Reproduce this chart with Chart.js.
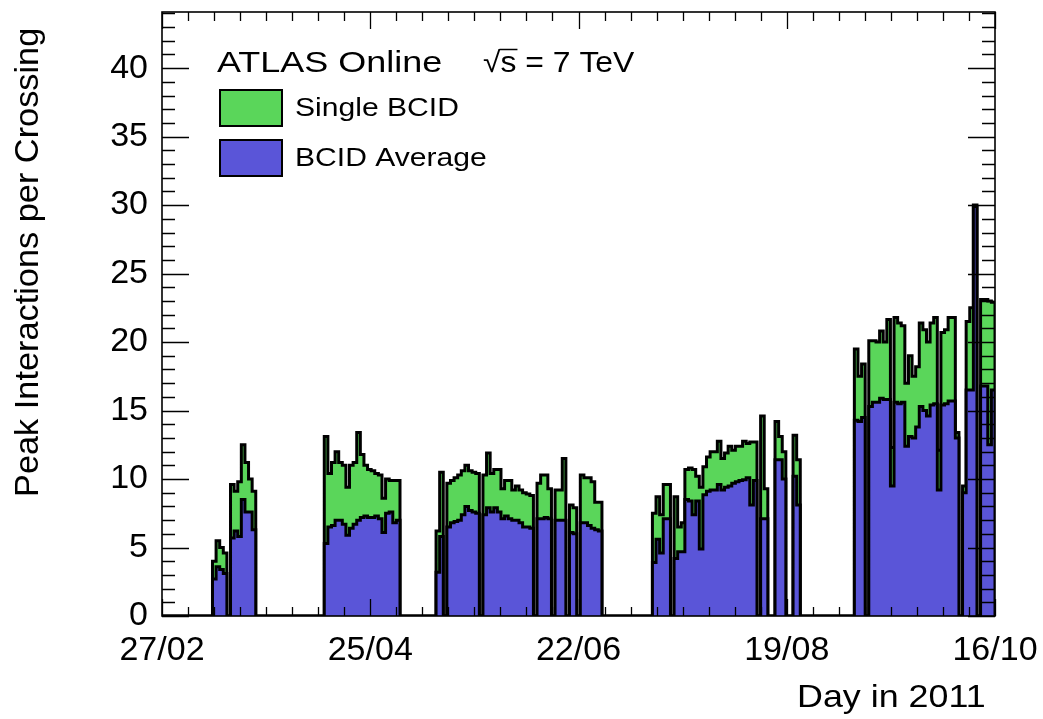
<!DOCTYPE html>
<html>
<head>
<meta charset="utf-8">
<title>ATLAS peak interactions per crossing 2011</title>
<script src="https://cdn.jsdelivr.net/npm/chart.js@4.4.1/dist/chart.umd.min.js"></script>
<style>
  html, body { margin: 0; padding: 0; background: #fff; }
  canvas { display: block; }
</style>
</head>
<body>
<canvas id="peakChart" width="1043" height="719"></canvas>
<script>
// first day (day of year, 0 = 1 Jan 2011) of each block of fills
const periodStart = [71, 102, 133, 193, 249];

// peak interactions per crossing, one value per day (0 = no stable beams that day)
const singleBCID = [
    [4.0, 5.5, 5.0, 4.6, 0, 9.6, 9.1, 9.8, 12.5, 11.2, 10.0, 9.1],
    [13.1, 10.4, 11.2, 12.0, 11.2, 11.0, 9.4, 11.0, 11.2, 13.4, 11.8, 11.0, 10.7, 10.6, 10.4, 10.3, 8.6, 10.0, 9.9, 9.9, 9.9],
    [6.2, 10.5, 0, 9.7, 9.9, 10.1, 10.3, 10.6, 11.0, 10.6, 10.5, 10.4, 0,
     10.3, 11.9, 10.4, 10.7, 10.7, 9.3, 9.9, 9.9, 9.2, 9.5, 9.2, 9.0, 8.9, 8.8, 0,
     9.7, 10.3, 10.3, 9.3, 0, 9.2, 9.2, 11.5, 0, 8.1, 7.9, 0,
     10.3, 10.1, 10.1, 9.8, 8.3, 8.3],
    [7.5, 8.7, 7.4, 9.6, 9.6, 0, 8.7, 6.5, 6.8, 10.7, 10.8, 10.7, 10.2, 9.4, 10.9, 11.6,
     12.0, 12.0, 12.75, 11.5, 11.9, 12.4, 12.1, 12.4, 12.4, 12.75, 12.6, 12.7, 12.7, 0,
     14.6, 9.3, 0, 0, 14.2, 13.1, 12.0, 0, 0, 13.2, 11.4],
    [19.5, 17.5, 18.4, 0, 20.1, 20.1, 20.0, 20.8, 20.0, 21.65, 12.3, 21.8, 21.4, 21.2,
     17.0, 19.0, 17.5, 18.2, 21.4, 20.9, 20.0, 21.4, 21.8, 12.1, 20.7, 20.9, 21.8, 21.8,
     13.4, 0, 9.5, 21.5, 22.5, 30.0, 0, 23.1, 23.1, 23.0, 22.9]
];
const bcidAverage = [
    [2.7, 3.6, 3.4, 3.1, 0, 5.7, 6.2, 5.8, 8.5, 7.6, 7.6, 6.3],
    [5.3, 6.5, 6.6, 7.0, 7.0, 6.7, 5.9, 6.4, 6.7, 7.0, 7.2, 7.3, 7.2, 7.2, 7.3, 7.1, 6.1, 7.5, 7.6, 6.8, 7.0],
    [3.2, 5.8, 0, 6.5, 6.8, 6.9, 7.0, 7.4, 8.0, 7.7, 7.6, 7.5, 0,
     7.4, 7.9, 7.6, 7.9, 7.6, 7.1, 7.3, 7.1, 7.0, 7.0, 6.8, 6.5, 6.5, 6.4, 0,
     7.1, 7.1, 7.2, 7.1, 0, 7.0, 7.0, 7.0, 0, 6.1, 6.0, 0,
     6.8, 6.8, 6.6, 6.4, 6.3, 6.2],
    [3.9, 5.6, 4.6, 7.1, 7.1, 0, 4.2, 4.7, 4.7, 8.5, 8.4, 7.4, 8.4, 4.9, 8.85, 9.1,
     9.2, 9.2, 9.6, 9.2, 9.4, 9.5, 9.7, 9.8, 9.9, 9.95, 10.1, 8.1, 9.9, 0,
     7.1, 7.1, 0, 0, 11.4, 11.4, 10.0, 0, 0, 10.2, 8.1],
    [14.3, 14.2, 14.5, 0, 15.3, 15.6, 15.6, 15.9, 15.8, 15.8, 9.5, 15.6, 15.5, 15.6,
     12.4, 13.1, 13.0, 13.8, 15.3, 15.0, 14.6, 15.4, 15.5, 9.2, 15.4, 15.5, 15.7, 15.7,
     13.0, 0, 9.0, 16.5, 16.5, 29.9, 0, 16.8, 16.8, 12.5, 16.5]
];

// x axis: date labels (day of year of each major tick)
const tickDays = [57, 114.75, 172.5, 230.25, 288];
const tickLabels = ['27/02', '25/04', '22/06', '19/08', '16/10'];
const yTicks = [0, 5, 10, 15, 20, 25, 30, 35, 40];
const xTitle = 'Day in 2011';
const yTitle = 'Peak Interactions per Crossing';

const GREEN = '#5ad65a';
const BLUE = '#5a55d8';
const FONT = '"Liberation Sans", Arial, Helvetica, sans-serif';

Chart.defaults.font.family = FONT;
Chart.defaults.color = '#000';

// turn the daily values into histogram steps (value holds from day to day+1)
function histPoints(series) {
    let pts = [{x: tickDays[0], y: 0}];
    series.forEach(function (vals, p) {
        vals.forEach(function (v, i) {
            pts.push({x: periodStart[p] + i, y: v});
        });
        pts.push({x: periodStart[p] + vals.length, y: 0});
    });
    return pts;
}

// ROOT text comes out a bit wider than Liberation Sans, so stretch it horizontally
function stretchText(ctx, text, x, y, size, stretch, angle) {
    ctx.save();
    ctx.font = size + 'px ' + FONT;
    ctx.translate(x, y);
    if (angle) ctx.rotate(angle);
    ctx.scale(stretch, 1);
    ctx.fillText(text, 0, 0);
    ctx.restore();
}

// ROOT-like frame with inner ticks on all four sides, axis titles and the legend box
const rootFrame = {
    id: 'rootFrame',
    afterDatasetsDraw(chart) {
        const {ctx, chartArea: a, scales: {x, y}} = chart;
        ctx.save();
        ctx.strokeStyle = '#000';
        ctx.lineWidth = 1.3;
        ctx.beginPath();
        for (let v = 0; v <= y.max; v++) {
            const py = Math.round(y.getPixelForValue(v)) + 0.5;
            const len = v % 5 === 0 ? 27 : 13;
            ctx.moveTo(a.left, py); ctx.lineTo(a.left + len, py);
            ctx.moveTo(a.right, py); ctx.lineTo(a.right - len, py);
        }
        const minorStep = (tickDays[1] - tickDays[0]) / 8;
        for (let k = 0; tickDays[0] + k * minorStep <= x.max + 1e-6; k++) {
            const px = Math.round(x.getPixelForValue(tickDays[0] + k * minorStep)) + 0.5;
            const len = k % 8 === 0 ? 17 : 9;
            ctx.moveTo(px, a.bottom); ctx.lineTo(px, a.bottom - len);
            ctx.moveTo(px, a.top); ctx.lineTo(px, a.top + len);
        }
        ctx.stroke();
        ctx.lineWidth = 1.6;
        ctx.strokeRect(a.left, a.top, a.right - a.left, a.bottom - a.top);
        ctx.restore();
    },
    afterDraw(chart) {
        const ctx = chart.ctx;
        ctx.save();
        ctx.fillStyle = '#000';

        // axis titles, right-aligned to the axis ends like ROOT does
        ctx.textBaseline = 'alphabetic';
        ctx.textAlign = 'left';
        stretchText(ctx, xTitle, 797, 707, 32, 1.12);
        ctx.textBaseline = 'middle';
        stretchText(ctx, yTitle, 29, 497, 33, 1.04, -Math.PI / 2);

        ctx.textBaseline = 'alphabetic';
        stretchText(ctx, 'ATLAS Online', 217, 72, 29, 1.24);
        stretchText(ctx, '\u221As = 7 TeV', 483, 72, 29, 1.1);
        // overline of the square root
        ctx.font = '29px ' + FONT;
        const x0 = 483 + ctx.measureText('\u221A').width * 1.1;
        const x1 = 483 + ctx.measureText('\u221As').width * 1.1;
        ctx.lineWidth = 1.5;
        ctx.beginPath();
        ctx.moveTo(x0 - 1, 49.5);
        ctx.lineTo(x1 + 1, 49.5);
        ctx.stroke();

        // legend entries: Single BCID first, then BCID Average
        [1, 0].forEach(function (di, row) {
            const ds = chart.data.datasets[di];
            const top = 90 + row * 50;
            ctx.fillStyle = ds.backgroundColor;
            ctx.fillRect(220, top, 62, 36);
            ctx.lineWidth = 2;
            ctx.strokeStyle = '#000';
            ctx.strokeRect(220, top, 62, 36);
            ctx.fillStyle = '#000';
            stretchText(ctx, ds.label, 295, top + 25.5, 25.5, 1.18);
        });
        ctx.restore();
    }
};

let ctx = document.getElementById('peakChart').getContext('2d');

let chart = new Chart(ctx, {
    type: 'line',
    data: {
        datasets: [
            {
                label: 'BCID Average',
                data: histPoints(bcidAverage),
                backgroundColor: BLUE
            },
            {
                label: 'Single BCID',
                data: histPoints(singleBCID),
                backgroundColor: GREEN
            }
        ]
    },
    options: {
        responsive: false,
        animation: false,
        devicePixelRatio: 1,
        layout: {padding: {left: 0, right: 48, top: 12, bottom: 0}},
        elements: {
            line: {stepped: true, fill: 'origin', borderColor: '#000', borderWidth: 3, tension: 0},
            point: {radius: 0, hoverRadius: 0}
        },
        plugins: {
            legend: {display: false},
            tooltip: {enabled: false}
        },
        scales: {
            x: {
                type: 'linear',
                min: tickDays[0],
                max: tickDays[tickDays.length - 1],
                grid: {display: false, drawTicks: false},
                border: {display: false},
                afterBuildTicks: function (s) {
                    s.ticks = tickDays.map(function (v) { return {value: v}; });
                },
                afterFit: function (s) {
                    s.height = 103;
                    s.paddingLeft = 0;
                    s.paddingRight = 0;
                },
                ticks: {
                    callback: function (v, i) { return tickLabels[i]; },
                    autoSkip: false,
                    maxRotation: 0,
                    padding: 14,
                    font: {size: 34}
                },
                title: {display: false, text: xTitle}
            },
            y: {
                min: 0,
                max: 44.1,
                grid: {display: false, drawTicks: false},
                border: {display: false},
                afterBuildTicks: function (s) {
                    s.ticks = yTicks.map(function (v) { return {value: v}; });
                },
                afterFit: function (s) {
                    s.width = 162;
                    s.paddingTop = 0;
                    s.paddingBottom = 0;
                },
                ticks: {padding: 14, font: {size: 34}},
                title: {display: false, text: yTitle}
            }
        }
    },
    plugins: [rootFrame]
});
</script>
</body>
</html>
